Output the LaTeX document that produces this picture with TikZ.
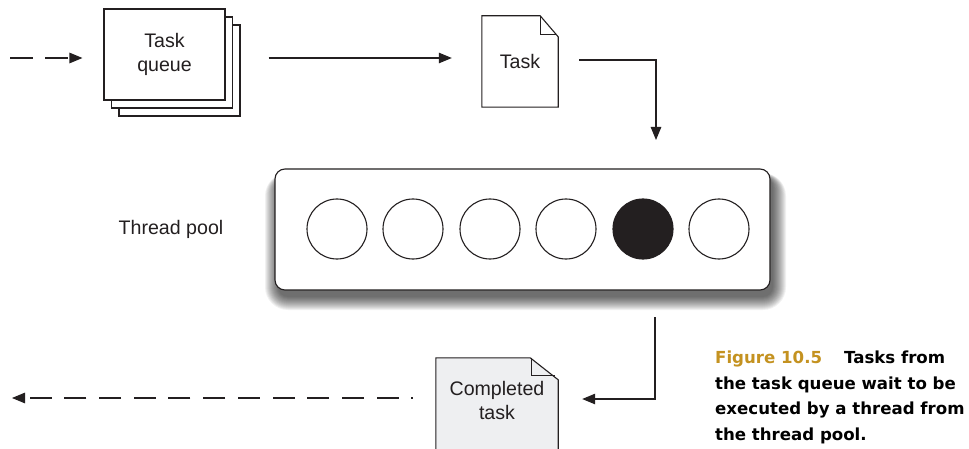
\documentclass[tikz,border=0pt]{standalone}
\usepackage{fontspec}
\setmainfont{Liberation Sans}
\newfontfamily\capfont{DejaVu Sans}
\usetikzlibrary{arrows.meta,calc}
\definecolor{ink}{RGB}{35,31,32}
\definecolor{gold}{RGB}{196,146,32}
\definecolor{docgray}{RGB}{238,239,241}
\begin{document}
\begin{tikzpicture}[x=1pt,y=-1pt,
  line/.style={draw=ink,line width=1.1pt},
  foldline/.style={draw=ink,line width=0.8pt},
  arr/.style={line,-{Triangle[length=13pt,width=10.5pt]}},
  lbl/.style={text=ink,font=\fontsize{19.6}{24}\selectfont,align=center,inner sep=0pt},
  qbox/.style={line,fill=white,minimum width=121pt,minimum height=91pt,inner sep=0pt},
  docnode/.style={minimum width=#1,inner sep=0pt},
  thread/.style={circle,line,fill=white,minimum size=60pt,inner sep=0pt},
  captxt/.style={anchor=base west,inner sep=0pt,font=\capfont\bfseries\fontsize{16.6}{20}\selectfont}
]
\clip (0,0) rectangle (969,449);
\fill[white] (0,0) rectangle (969,449);

% Task queue stack
\node[qbox] (q3) at (179.5,70.5) {};
\node[qbox] (q2) at (172,62.5) {};
\node[qbox,lbl] (queue) at (164.5,54.5) {Task\\queue};

% incoming dashed arrow
\coordinate (in) at (10,58);
\draw[arr,dash pattern=on 23pt off 12pt] (in) -- ([xshift=-21pt]queue.west |- in);

% Task document
\node[docnode=76pt,minimum height=91pt] (task) at (520,61.5) {};
\filldraw[line,fill=white] (task.north west) -- ($(task.north east)+(-18,0)$)
  -- ($(task.north east)+(0,21)$) -- (task.south east) -- (task.south west) -- cycle;
\draw[foldline] ($(task.north east)+(-18,0)$) -- ($(task.north east)+(-18,19)$) -- ($(task.north east)+(-2,19)$);
\node[lbl] (tasktext) at (task) {Task};

% queue -> task
\draw[arr] ([xshift=28pt]q3.east |- in) -- ([xshift=-30pt]task.west |- in);

% task -> pool
\coordinate (tk) at (656,140);
\draw[arr] ([xshift=21pt,yshift=1.5pt]task.east) -| (tk);

% pool shadow
\foreach \k in {0,...,13}{
  \pgfmathsetmacro\rr{10+\k}
  \pgfmathsetmacro\ee{\k*1.0}
  \pgfmathsetmacro\et{\k*0.3}
  \fill[black,opacity=0.055,rounded corners=\rr pt] (275+3-\ee,290+7+\ee) rectangle (770+3+\ee,169+8-\et);
}
% pool
\node[line,fill=white,rounded corners=10pt,minimum width=495pt,minimum height=121pt,inner sep=0pt] (pool) at (522.5,229.5) {};
\node[thread] (t1) at (337,229) {};
\node[thread] (t2) at (413,229) {};
\node[thread] (t3) at (490,229) {};
\node[thread] (t4) at (566,229) {};
\node[thread,fill=ink] (t5) at (643,229) {};
\node[thread] (t6) at (719,229) {};
\node[lbl] (tpl) at (171,229) {Thread pool};

% Completed document
\node[docnode=122pt,minimum height=84pt] (comp) at (497,400) {};
\filldraw[line,fill=docgray] (comp.north west) -- ($(comp.north east)+(-28,0)$)
  -- ($(comp.north east)+(0,22)$) -- ($(comp.north east)+(0,110)$) -- ($(comp.north west)+(0,110)$) -- cycle;
\draw[foldline] ($(comp.north east)+(-27,0)$) -- ($(comp.north east)+(-27,18)$) -- ($(comp.north east)+(-3,18)$);
\node[lbl] (comptext) at (comp) {Completed\\task};

% pool -> completed
\coordinate (p1) at (655,317);
\coordinate (outy) at (0,399);
\draw[arr] (p1) |- ([xshift=24pt]comp.east |- outy);

% outgoing dashed arrow
\coordinate (out) at (12,398);
\draw[arr,dash pattern=on 22pt off 12.7pt,dash phase=20.5pt] ([xshift=-23pt]comp.west |- out) -- (out);

% caption
\node[captxt] (cap1) at (715,363) {\textcolor{gold}{Figure 10.5}\hspace{22pt}Tasks from};
\node[captxt] (cap2) at (715,389) {the task queue wait to be};
\node[captxt] (cap3) at (715,414) {executed by a thread from};
\node[captxt] (cap4) at (715,440) {the thread pool.};
\end{tikzpicture}
\end{document}
